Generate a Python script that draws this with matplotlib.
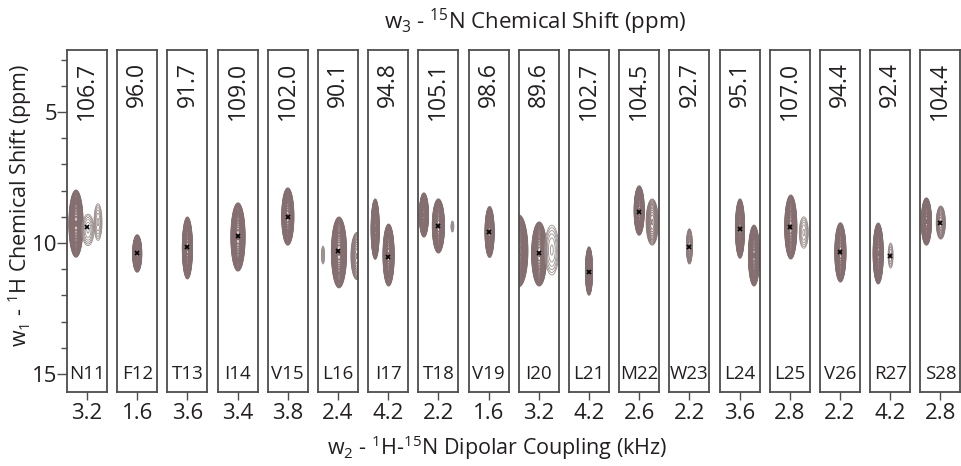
import numpy as np
import matplotlib

matplotlib.use("Agg")
import matplotlib.pyplot as plt

plt.rcParams["font.family"] = ["Open Sans", "DejaVu Sans"]
plt.rcParams["mathtext.fontset"] = "custom"
plt.rcParams["mathtext.rm"] = "Open Sans"
plt.rcParams["mathtext.it"] = "Open Sans:italic"
plt.rcParams["mathtext.bf"] = "Open Sans:bold"

# strip labels
residues = ["N11", "F12", "T13", "I14", "V15", "L16", "I17", "T18", "V19",
            "I20", "L21", "M22", "W23", "L24", "L25", "V26", "R27", "S28"]
n15_shift = ["106.7", "96.0", "91.7", "109.0", "102.0", "90.1", "94.8", "105.1", "98.6",
             "89.6", "102.7", "104.5", "92.7", "95.1", "107.0", "94.4", "92.4", "104.4"]
dipolar_khz = [3.2, 1.6, 3.6, 3.4, 3.8, 2.4, 4.2, 2.2, 1.6,
               3.2, 4.2, 2.6, 2.2, 3.6, 2.8, 2.2, 4.2, 2.8]
# assigned 1H shift (ppm) of the marked peak in each strip
h1_shift = [9.39, 10.38, 10.15, 9.73, 9.00, 10.30, 10.53, 9.35, 9.58,
            10.38, 11.10, 8.82, 10.15, 9.47, 9.39, 10.34, 10.50, 9.24]

# every contoured peak: strip index, centre (kHz, ppm), outer half widths, intensity (2 dark, 1 medium, 0 weak)
peak_strip = [0, 0, 0, 1, 2, 3, 4, 5, 5, 5, 6, 6, 7, 7, 7, 8, 9, 9, 9,
              10, 11, 11, 12, 13, 13, 14, 14, 15, 16, 16, 17, 17]
peak_khz = [2.65, 3.25, 3.75, 1.60, 3.60, 3.42, 3.80, 1.65, 2.45, 3.35, 3.55, 4.22, 1.475, 2.20, 2.90,
            1.65, 2.20, 3.22, 3.85, 4.20, 2.60, 3.25, 2.20, 3.62, 4.32, 2.85, 3.50, 2.22, 3.60, 4.22,
            2.10, 2.82]
peak_ppm = [9.26, 9.50, 9.20, 10.40, 10.19, 9.77, 8.99, 10.46, 10.36, 10.50, 9.47, 10.46, 8.93, 9.35, 9.37,
            9.58, 10.30, 10.42, 10.27, 11.07, 8.76, 9.20, 10.13, 9.45, 10.48, 9.39, 9.60, 10.36, 10.40, 10.48,
            9.18, 9.22]
peak_wx = [0.35, 0.30, 0.20, 0.225, 0.25, 0.35, 0.30, 0.08, 0.375, 0.30, 0.20, 0.275, 0.225, 0.30, 0.07,
           0.225, 0.45, 0.375, 0.35, 0.175, 0.25, 0.30, 0.15, 0.225, 0.275, 0.30, 0.225, 0.275, 0.25, 0.125,
           0.25, 0.225]
peak_wy = [1.28, 0.60, 0.70, 0.71, 1.18, 1.30, 1.09, 0.34, 1.35, 0.90, 1.15, 1.18, 0.84, 1.03, 0.21,
           0.97, 1.37, 1.22, 0.95, 0.92, 0.94, 0.88, 0.67, 1.13, 1.16, 1.22, 0.60, 1.13, 1.16, 0.48,
           0.90, 0.63]
peak_level = [2, 0, 0, 2, 2, 2, 2, 0, 2, 1, 2, 2, 2, 2, 0, 2, 2, 2, 0, 2, 2, 1, 1, 2, 2, 2, 0, 2, 2, 0,
              2, 1]

TEXT = "#231f20"
FRAME = "#4d4d4d"
PEAK_STYLE = {
    2: dict(levels=np.geomspace(0.02, 0.97, 26), colors="#846e6f", linewidths=0.8),
    1: dict(levels=np.geomspace(0.03, 0.95, 13), colors="#8e7b7b", linewidths=0.7),
    0: dict(levels=np.geomspace(0.08, 0.9, 6), colors="#9a8d8d", linewidths=0.6),
}
HALF_WIDTH = 1.0  # kHz shown either side of each strip centre
Y_TOP, Y_BOTTOM = 2.63, 15.69

W, H = 961, 466
fig = plt.figure(figsize=(W / 100, H / 100), dpi=100)
left0, pitch, strip_w = 67, 50.2, 40
top_px, bottom_px = 50, 392

for i, res in enumerate(residues):
    ax = fig.add_axes([(left0 + i * pitch) / W, (H - bottom_px) / H, strip_w / W, (bottom_px - top_px) / H])
    centre = dipolar_khz[i]
    for k in range(len(peak_strip)):
        if peak_strip[k] != i:
            continue
        style = PEAK_STYLE[peak_level[k]]
        r_out = np.sqrt(-2 * np.log(style["levels"][0]))
        sx, sy = peak_wx[k] / r_out, peak_wy[k] / r_out
        gx = np.linspace(peak_khz[k] - 1.1 * peak_wx[k], peak_khz[k] + 1.1 * peak_wx[k], 80)
        gy = np.linspace(peak_ppm[k] - 1.1 * peak_wy[k], peak_ppm[k] + 1.1 * peak_wy[k], 200)
        X, Y = np.meshgrid(gx, gy)
        Z = np.exp(-0.5 * ((X - peak_khz[k]) / sx) ** 2 - 0.5 * ((Y - peak_ppm[k]) / sy) ** 2)
        ax.contour(X, Y, Z, **style)
    ax.plot(centre, h1_shift[i], marker="x", color="black", markersize=3.5, mew=1.2)

    ax.set_xlim(centre - HALF_WIDTH, centre + HALF_WIDTH)
    ax.set_ylim(Y_BOTTOM, Y_TOP)
    ax.set_xticks([centre])
    ax.set_xticklabels([f"{centre:.1f}"])
    ax.tick_params(axis="x", length=6, width=1.0, color=FRAME, labelsize=16, labelcolor=TEXT, pad=2)
    for spine in ax.spines.values():
        spine.set_color(FRAME)
        spine.set_linewidth(1.3)
    if i == 0:
        ax.set_yticks([5, 10, 15])
        ax.set_yticks([3, 4, 6, 7, 8, 9, 11, 12, 13, 14], minor=True)
        ax.tick_params(axis="y", which="major", length=7, width=1.0, color=FRAME,
                       labelsize=16, labelcolor=TEXT, pad=0)
        ax.tick_params(axis="y", which="minor", length=4, width=1.0, color=FRAME)
    else:
        ax.set_yticks([])

    ax.text(0.5, 0.965, n15_shift[i], transform=ax.transAxes, rotation=90,
            ha="center", va="top", fontsize=16.5, color=TEXT)
    ax.text(centre, 15.0, res, ha="center", va="center", fontsize=13.5, color=TEXT)

fig.text(535 / W, 1 - 22 / H, r"w$_3$ - $^{15}$N Chemical Shift (ppm)",
         ha="center", va="center", fontsize=16, color=TEXT)
fig.text(497 / W, 1 - 448 / H, r"w$_2$ - $^1$H-$^{15}$N Dipolar Coupling (kHz)",
         ha="center", va="center", fontsize=15.5, color=TEXT)
fig.text(20 / W, 1 - 205 / H, r"w$_1$ - $^1$H Chemical Shift (ppm)",
         ha="center", va="center", rotation=90, fontsize=15.5, color=TEXT)

fig.savefig("out.png", dpi=100, facecolor="white")
